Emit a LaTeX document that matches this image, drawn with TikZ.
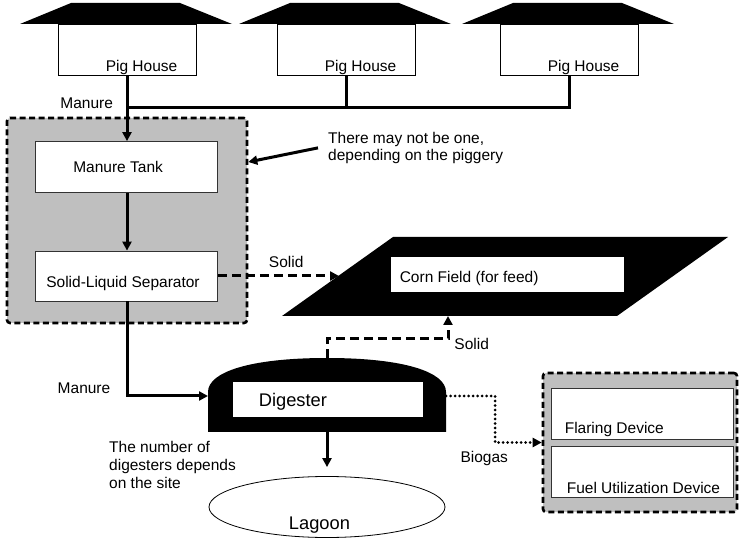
\documentclass[tikz,border=0pt]{standalone}
\usepackage{fontspec}
\setmainfont{Liberation Sans}
\usetikzlibrary{positioning,arrows.meta,shapes.geometric}

\begin{document}
\begin{tikzpicture}[x=1pt,y=-1pt,
  every node/.style={font=\fontsize{15.5}{17.5}\selectfont},
  house/.style={draw,line width=0.8pt,fill=white,minimum width=138pt,minimum height=51pt,inner sep=0pt},
  box/.style={draw=black!80,line width=0.8pt,fill=white,inner sep=0pt},
  zone/.style={draw,fill=gray!50,line width=2.6pt,dash pattern=on 6pt off 3.5pt,rounded corners=3pt,inner sep=0pt},
  pipe/.style={line width=3pt},
  flow/.style={pipe,-{Triangle[length=9pt,width=9pt]}},
  dashflow/.style={flow,dash pattern=on 9pt off 5pt},
  dotflow/.style={flow,line cap=round,dash pattern=on 0pt off 4.5pt},
  boxtext/.style={anchor=base west,inner sep=0pt},
  big/.style={font=\fontsize{18.3}{21}\selectfont}]
\useasboundingbox (0,0) rectangle (740,540);

% pig houses
\foreach \n/\x in {1/127,2/346,3/569}{
  \fill ({\x-107},24) -- ({\x+105},24) -- ({\x+53},3) -- ({\x-56},3) -- cycle;
  \node[house,label={[boxtext,xshift=48pt,yshift=4pt]south west:Pig House}] (house\n) at (\x,49.5) {};
}
\coordinate (jn) at (127,108);
\draw[pipe] (house3.south) |- (jn);
\draw[pipe] (house2.south) -- (house2.south |- jn);
\node[anchor=base] (manure1) at (86.7,108.3) {Manure};

% tank and separator
\node[zone,minimum width=240pt,minimum height=205pt] (sepzone) at (127,220.5) {};
\node[box,minimum width=182pt,minimum height=51pt,label={[boxtext,xshift=38pt,yshift=20pt]south west:Manure Tank}] (tank) at (126.5,167) {};
\node[box,minimum width=182pt,minimum height=50pt,label={[boxtext,xshift=11pt,yshift=13.7pt]south west:Solid-Liquid Separator}] (sep) at (126.5,276) {};
\draw[flow] (house1.south) -- (tank.north -| jn);
\draw[flow] (tank.south -| jn) -- (sep.north -| jn);

\node[anchor=north west,align=left,inner sep=0pt] (note) at (328,131.7) {There may not be one,\\depending on the piggery};
\draw[flow] ([xshift=-10pt]note.west) -- ([yshift=58.5pt]sepzone.east);

% corn field
\fill (282,316) -- (617,316) -- (728,237) -- (393,237) -- cycle;
\coordinate (fieldW) at (339,276);
\coordinate (fieldS) at (448,316);
\node[box,draw=none,minimum width=233pt,minimum height=35pt,label={[boxtext,xshift=9pt,yshift=10pt]south west:Corn Field (for feed)}] (corn) at (507.5,274.5) {};
\draw[dashflow] (sep.east) -- (fieldW);
\node[anchor=base] (solid1) at (286.2,267.7) {Solid};

% digester
\fill (208,432) -- (208,392) .. controls (208,372) and (250,358) .. (327,358)
  .. controls (404,358) and (446,372) .. (446,392) -- (446,432) -- cycle;
\coordinate (digW) at (208,396);
\coordinate (digE) at (446,396);
\coordinate (digT) at (327,358);
\coordinate (digB) at (327,432);
\node[box,draw=none,minimum width=190pt,minimum height=35pt,label={[boxtext,big,xshift=26pt,yshift=11pt]south west:Digester}] (dig) at (328,399.5) {};
\draw[flow] (sep.south -| jn) |- (digW);
\node[anchor=base] (manure2) at (84,393.3) {Manure};
\draw[dashflow] (digT) -- ++(0,-19) -| (fieldS);
\node[anchor=base] (solid2) at (471.7,350) {Solid};

% lagoon
\node[draw,line width=0.8pt,ellipse,minimum width=236pt,minimum height=61pt,inner sep=0pt,label={[big,anchor=base,xshift=-7.5pt,yshift=-18pt]center:Lagoon}] (lagoon) at (327,507) {};
\draw[flow,shorten >=9pt] (digB) -- (lagoon.north);
\node[anchor=north west,align=left,inner sep=0pt,font=\fontsize{15.5}{18}\selectfont] (count) at (109,441.4) {The number of\\digesters depends\\on the site};

% gas use
\node[zone,minimum width=194pt,minimum height=139pt] (usezone) at (640,442.5) {};
\node[box,minimum width=182pt,minimum height=51pt,label={[boxtext,xshift=14pt,yshift=6pt]south west:Flaring Device}] (flare) at (642,413.5) {};
\node[box,minimum width=182pt,minimum height=51pt,label={[boxtext,xshift=16pt,yshift=4pt]south west:Fuel Utilization Device}] (fuel) at (642,471.5) {};
\draw[dotflow] (digE) -- ++(49,0) |- (usezone.west);
\node[anchor=base] (biogas) at (484.2,462.7) {Biogas};
\end{tikzpicture}
\end{document}
